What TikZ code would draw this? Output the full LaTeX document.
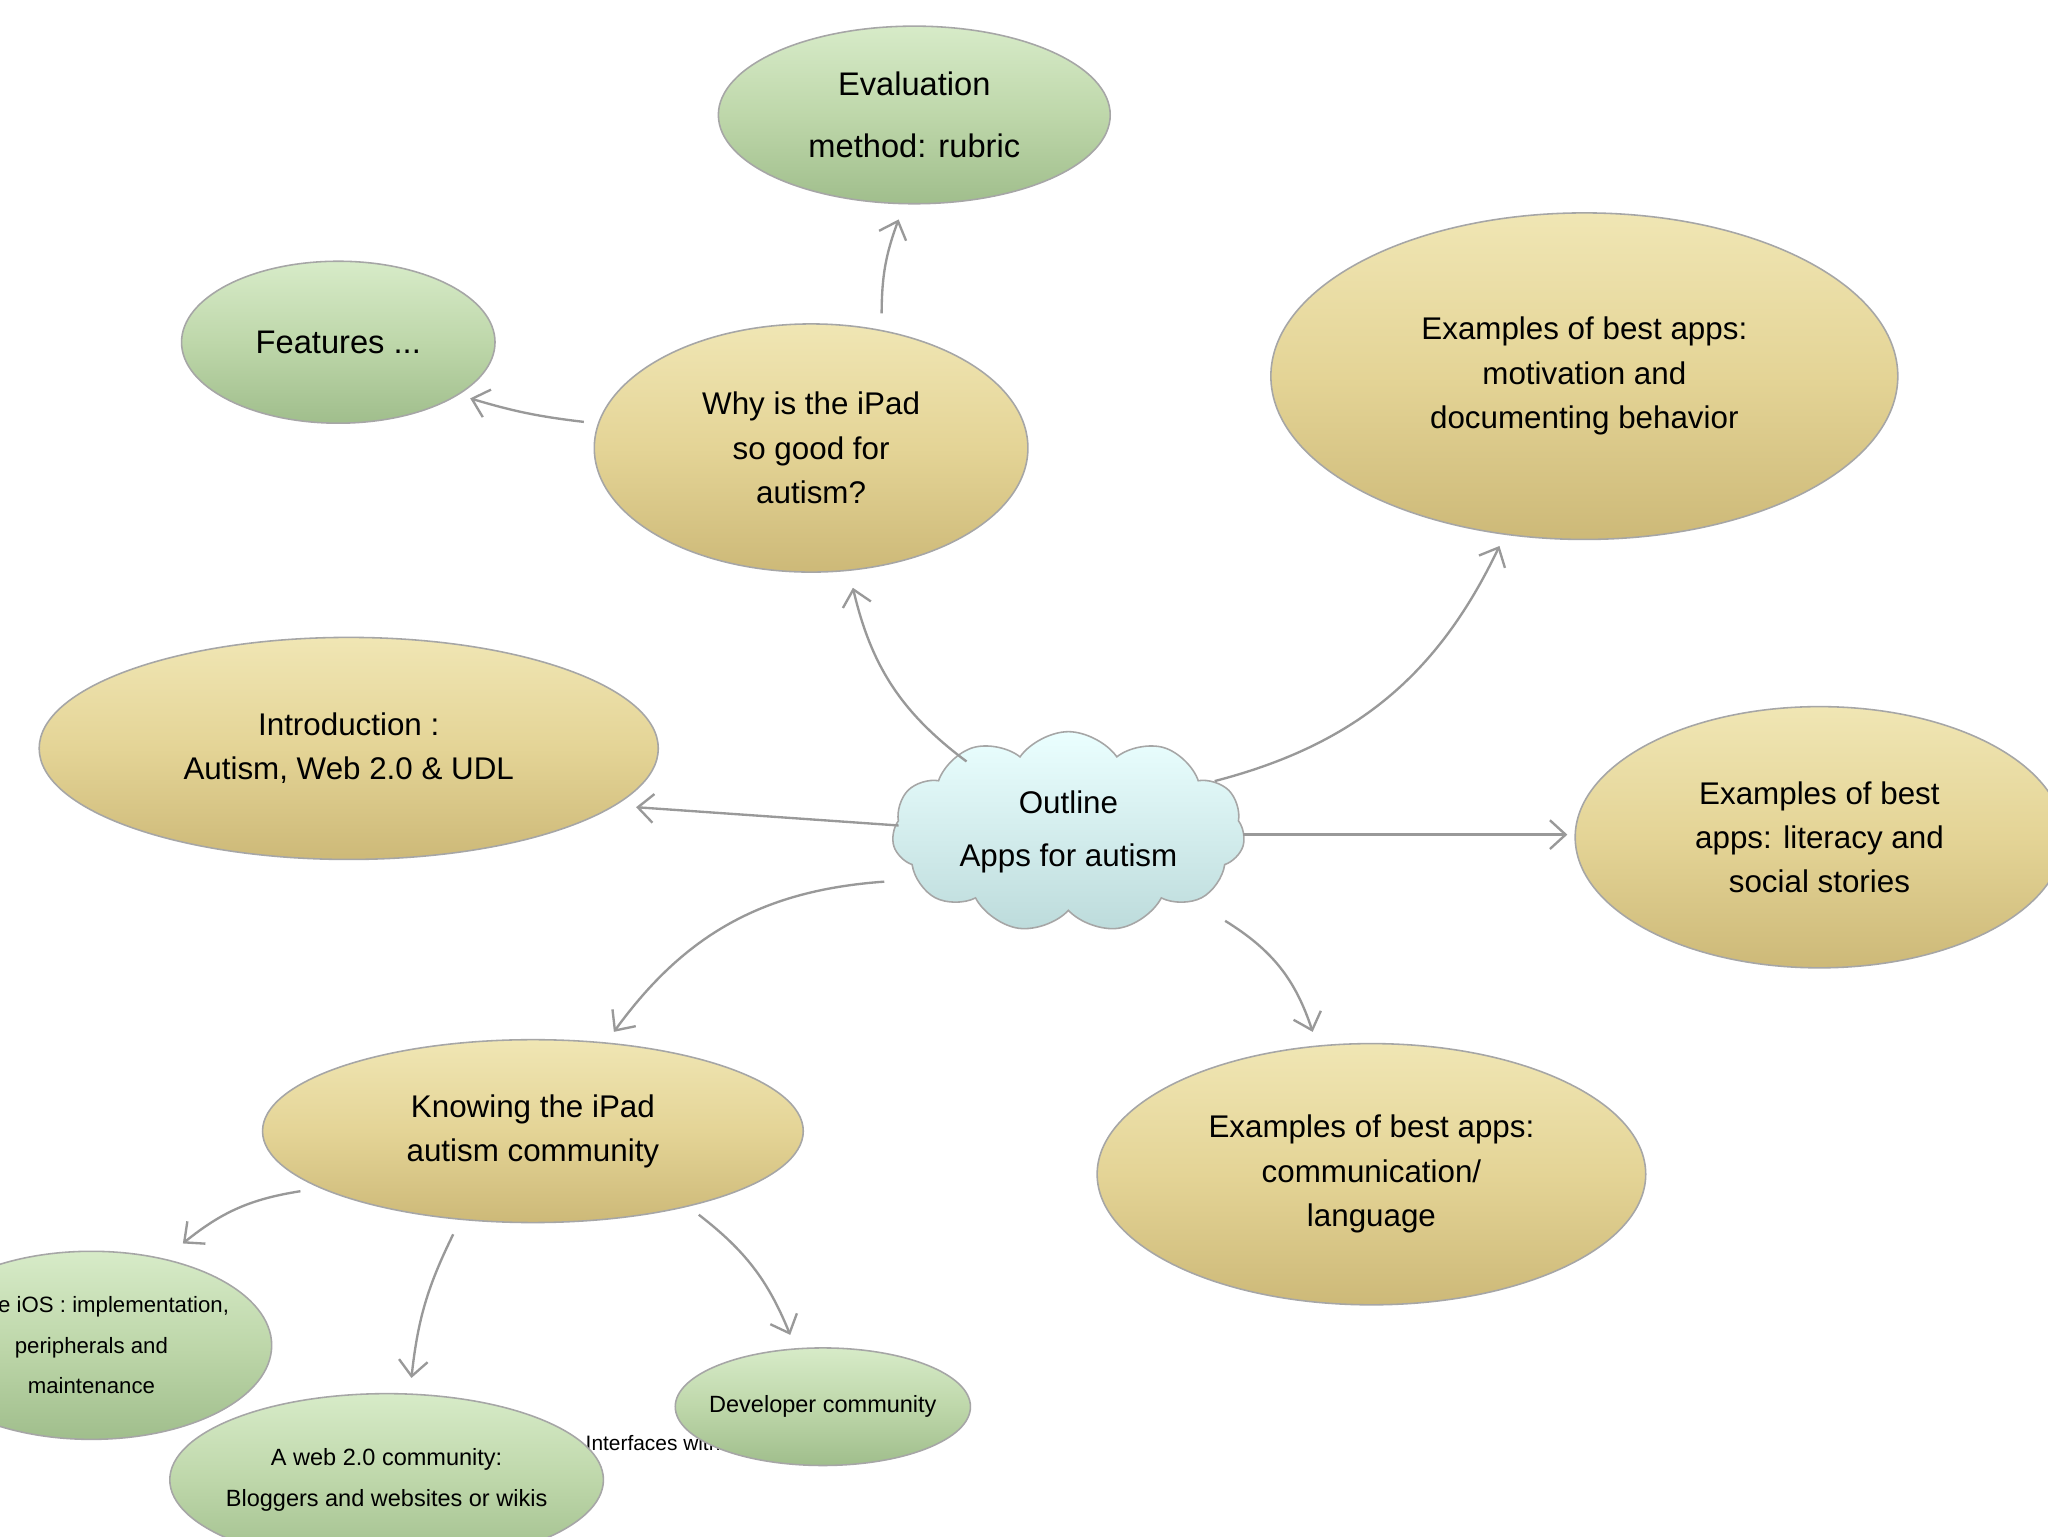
\documentclass[tikz,border=0pt]{standalone}
\usepackage{fontspec}
\setmainfont{Liberation Sans}
\usetikzlibrary{shapes.geometric,shapes.symbols,arrows.meta}
\definecolor{tanT}{RGB}{240,230,180}
\definecolor{tanM}{RGB}{228,212,150}
\definecolor{tanB}{RGB}{205,185,120}
\definecolor{grT}{RGB}{215,235,200}
\definecolor{grM}{RGB}{190,215,170}
\definecolor{grB}{RGB}{160,190,140}
\begin{document}
\begin{tikzpicture}[x=1pt,y=-1pt,
  ell/.style={ellipse,draw=gray!70,line width=1.2pt,align=center,inner sep=0pt,font=\fontsize{24}{34}\selectfont},
  tan/.style={ell,top color=tanT,bottom color=tanB,middle color=tanM},
  grn/.style={ell,top color=grT,bottom color=grB,middle color=grM,font=\fontsize{21}{32}\selectfont},
  arr/.style={draw=gray!80,line width=1.8pt,-{Straight Barb[length=12pt,width=22pt]}}]
\useasboundingbox (0,0) rectangle (1568,1176);
\clip (0,0) rectangle (1568,1176);
\fill[white] (0,0) rectangle (1568,1176);
\node at (500,1105) {\fontsize{16}{18}\selectfont Interfaces with};
\node[grn,minimum width=300pt,minimum height=136pt,font=\fontsize{25}{48}\selectfont] (eval) at (700,88) {Evaluation\\method: rubric};
\node[grn,minimum width=240pt,minimum height=124pt,font=\fontsize{25}{30}\selectfont] (feat) at (259,262) {Features ...};
\node[tan,minimum width=332pt,minimum height=190pt] (why) at (621,343) {Why is the iPad\\so good for\\autism?};
\node[tan,minimum width=480pt,minimum height=250pt] (mot) at (1213,288) {Examples of best apps:\\motivation and\\documenting behavior};
\node[tan,minimum width=474pt,minimum height=170pt] (intro) at (267,573) {Introduction :\\Autism, Web 2.0 \& UDL};
\node[cloud,cloud puffs=11,cloud puff arc=110,aspect=1.9,draw=gray!70,line width=1.2pt,top color=cyan!8,bottom color=cyan!30!gray!40,minimum width=270pt,minimum height=140pt,align=center,inner sep=0pt,font=\fontsize{24}{40}\selectfont] (out) at (818,637) {Outline\\Apps for autism};
\node[tan,minimum width=374pt,minimum height=200pt] (lit) at (1393,641) {Examples of best\\apps: literacy and\\social stories};
\node[tan,minimum width=414pt,minimum height=140pt] (know) at (408,866) {Knowing the iPad\\autism community};
\node[tan,minimum width=420pt,minimum height=200pt] (comm) at (1050,899) {Examples of best apps:\\communication/\\language};
\node[grn,minimum width=276pt,minimum height=144pt,inner sep=-14pt,font=\fontsize{17}{31}\selectfont] (ios) at (70,1030) {Apple iOS : implementation,\\peripherals and\\maintenance};
\node[grn,minimum width=332pt,minimum height=132pt,inner sep=-12pt,font=\fontsize{18}{32}\selectfont] (web) at (296,1133) {A web 2.0 community:\\Bloggers and websites or wikis};
\node[grn,minimum width=226pt,minimum height=90pt,inner sep=-8pt,font=\fontsize{18}{24}\selectfont] (dev) at (630,1077) {Developer community};
\coordinate (w1) at (675,240); \coordinate (w2) at (447,323);
\coordinate (c1) at (740,583); \coordinate (c2) at (930,598);
\coordinate (c3) at (688,632); \coordinate (c4) at (952,639);
\coordinate (c5) at (677,675); \coordinate (c6) at (938,705);
\coordinate (k1) at (230,912); \coordinate (k2) at (347,945); \coordinate (k3) at (535,930);
\draw[arr] (w1) to[bend left=10] (688,168);
\draw[arr] (w2) to[bend left=5] (360,305);
\draw[arr] (c1) to[bend left=20] (653,450);
\draw[arr] (c2) to[bend right=25] (1148,418);
\draw[arr] (c3) -- (487,618);
\draw[arr] (c4) -- (1200,639);
\draw[arr] (c5) to[bend right=25] (470,790);
\draw[arr] (c6) to[bend left=20] (1005,790);
\draw[arr] (k1) to[bend right=15] (140,952);
\draw[arr] (k2) to[bend right=10] (315,1055);
\draw[arr] (k3) to[bend left=15] (605,1022);
\end{tikzpicture}
\end{document}
